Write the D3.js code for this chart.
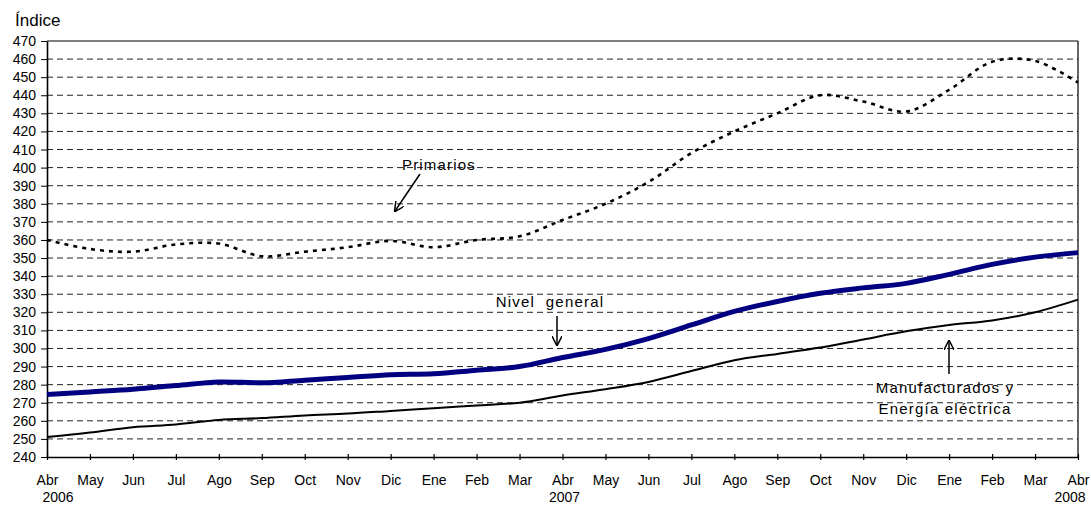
<!DOCTYPE html>
<html>
<head>
<meta charset="utf-8">
<script src="https://cdn.jsdelivr.net/npm/d3@7"></script>
<style>
  body { margin: 0; background: #fff; }
  text { font-family: "Liberation Sans", Arial, sans-serif; fill: #000; }
</style>
</head>
<body>
<svg id="chart" width="1091" height="507"></svg>
<script>
// months from Abr 2006 to Abr 2008
const months = ["Abr","May","Jun","Jul","Ago","Sep","Oct","Nov","Dic","Ene","Feb","Mar",
                "Abr","May","Jun","Jul","Ago","Sep","Oct","Nov","Dic","Ene","Feb","Mar","Abr"];
const years = [{ label: "2006", idx: 0 }, { label: "2007", idx: 12 }, { label: "2008", idx: 24 }];

const nivelGeneral = [274.5,276,277.5,279.5,281.5,281,282.5,284,285.5,286,288,290,
                      295,299.5,305.5,313,320.5,326,330.5,333.5,336,341,346.5,350.5,353];
const manufacturados = [251,253.5,256.5,258,260.5,261.5,263,264,265.5,267,268.5,270,
                        274,277.5,281.5,287.5,293.5,297,300.5,305,309.5,313,315.5,320,327];
const primarios = [360,355,353.5,357.5,358,351,353.5,356,359.5,356,360,362,
                   371,380,392,408,420,430,440,436.5,431,443,458.5,459,447];

const yTicks = d3.range(240, 471, 10);

const svg = d3.select("#chart"),
  margin = { top: 41, right: 13, bottom: 50, left: 47 },
  width = 1091 - margin.left - margin.right,
  height = 507 - margin.top - margin.bottom,
  g = svg.append("g").attr("transform", "translate(" + margin.left + "," + margin.top + ")");

const x = d3.scaleLinear().domain([0, months.length - 1]).range([0, width]);
const y = d3.scaleLinear().domain([240, 470]).range([height, 0]);

// dashed gridlines
g.append("g")
  .selectAll("line")
  .data(yTicks.filter(d => d > 240 && d < 470))
  .join("line")
  .attr("x1", 0).attr("x2", width)
  .attr("y1", d => y(d)).attr("y2", d => y(d))
  .attr("stroke", "#222")
  .attr("stroke-width", 1)
  .attr("stroke-dasharray", "6,4");

// frame: top and right
g.append("line").attr("x1", 0).attr("x2", width).attr("y1", 0).attr("y2", 0)
  .attr("stroke", "#000").attr("stroke-width", 1.2);
g.append("line").attr("x1", width).attr("x2", width).attr("y1", 0).attr("y2", height)
  .attr("stroke", "#000").attr("stroke-width", 1.2);

// y axis
const yAxis = g.append("g")
  .call(d3.axisLeft(y).tickValues(yTicks).tickSize(6).tickSizeOuter(0));
yAxis.select(".domain").attr("stroke-width", 1.6);
yAxis.selectAll("text").attr("font-size", 14).attr("x", -11);

// x axis
const xAxis = g.append("g")
  .attr("transform", "translate(0," + height + ")")
  .call(d3.axisBottom(x).tickValues(d3.range(months.length))
    .tickFormat(i => months[i]).tickSize(0).tickSizeOuter(0));
xAxis.select(".domain").attr("stroke-width", 1.6);
xAxis.selectAll("text").attr("font-size", 14).attr("dy", 0).attr("y", 28);
xAxis.selectAll(".tick line").attr("y1", -3).attr("y2", 3).attr("stroke-width", 1.2);

// year labels
const yearOffset = { "2006": 11, "2007": 2, "2008": -8 };
g.selectAll(".year")
  .data(years)
  .join("text")
  .attr("class", "year")
  .attr("x", d => x(d.idx) + yearOffset[d.label])
  .attr("y", height + 45)
  .attr("text-anchor", "middle")
  .attr("font-size", 14)
  .text(d => d.label);

svg.append("text").attr("x", 15).attr("y", 26).attr("font-size", 17).text("Índice");

// lines
const line = d3.line()
  .x((d, i) => x(i))
  .y(d => y(d))
  .curve(d3.curveCatmullRom.alpha(0.5));

g.append("path").datum(primarios)
  .attr("d", line).attr("fill", "none")
  .attr("stroke", "#000").attr("stroke-width", 2.6)
  .attr("stroke-dasharray", "4,5");

g.append("path").datum(manufacturados)
  .attr("d", line).attr("fill", "none")
  .attr("stroke", "#000").attr("stroke-width", 2);

g.append("path").datum(nivelGeneral)
  .attr("d", line).attr("fill", "none")
  .attr("stroke", "#000080").attr("stroke-width", 5);

// annotations
const defs = svg.append("defs");
defs.append("marker")
  .attr("id", "arrow")
  .attr("viewBox", "0 0 10 10")
  .attr("refX", 9).attr("refY", 5)
  .attr("markerWidth", 10).attr("markerHeight", 10)
  .attr("markerUnits", "userSpaceOnUse")
  .attr("orient", "auto")
  .append("path")
  .attr("d", "M0,0 L10,5 L0,10")
  .attr("fill", "none").attr("stroke", "#000").attr("stroke-width", 1.5);

function arrow(x1, y1, x2, y2) {
  svg.append("line")
    .attr("x1", x1).attr("y1", y1).attr("x2", x2).attr("y2", y2)
    .attr("stroke", "#000").attr("stroke-width", 1.5)
    .attr("marker-end", "url(#arrow)");
}
function label(tx, ty, t) {
  svg.append("text").attr("x", tx).attr("y", ty)
    .attr("text-anchor", "middle").attr("font-size", 15)
    .attr("letter-spacing", 1.2).style("white-space", "pre").text(t);
}

label(439, 170, "Primarios");
arrow(420, 174, 395, 211);

label(550, 307, "Nivel  general");
arrow(557, 316, 557, 345);

label(945, 393, "Manufacturados y");
label(945, 414, "Energía eléctrica");
arrow(949, 374, 949, 341);
</script>
</body>
</html>
